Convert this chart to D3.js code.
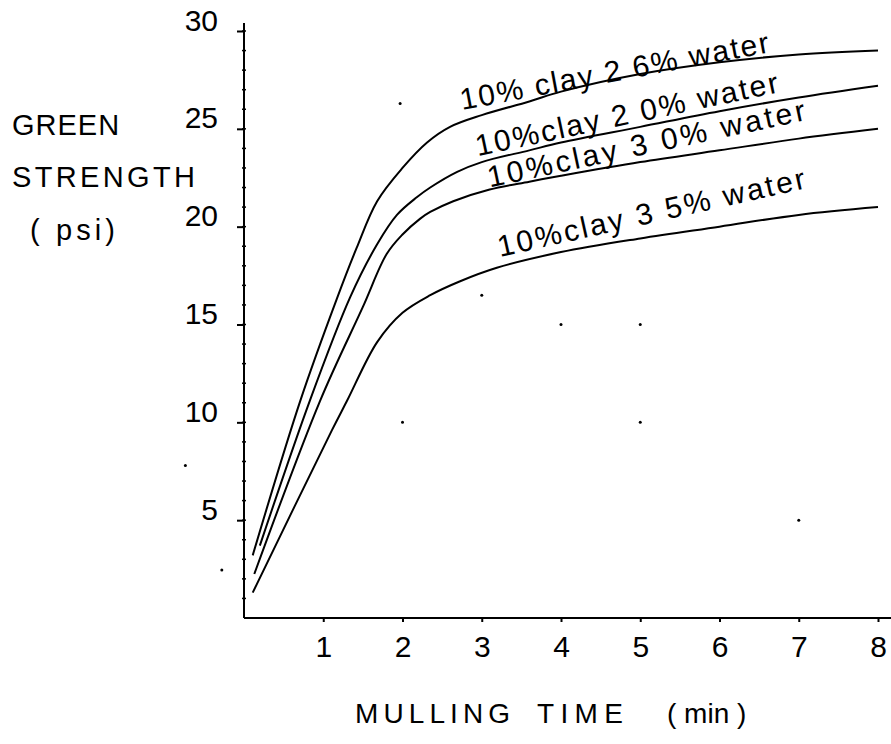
<!DOCTYPE html>
<html>
<head>
<meta charset="utf-8">
<script src="https://cdn.jsdelivr.net/npm/d3@7"></script>
<style>
  body { margin: 0; background: #fff; }
  text { font-family: "Liberation Sans", Arial, sans-serif; fill: #000; }
</style>
</head>
<body>
<div id="chart"></div>
<script>
var width = 891,
    height = 744

// tick values
var xTicks = [1, 2, 3, 4, 5, 6, 7, 8]
var yTicks = [5, 10, 15, 20, 25, 30]

// curve labels, as drawn on the chart
var seriesNames = ["10% clay 2 6% water", "10%clay 2 0% water", "10%clay 3 0% water", "10%clay 3 5% water"]

// mulling time (min) and green strength (psi)
var time26 = [0.11, 0.71, 1.17, 1.42, 1.68, 2.0, 2.31, 2.6, 3.0, 3.6, 4, 5, 6, 7, 8]
var str26  = [3.2, 11.1, 16.3, 18.9, 21.3, 23.0, 24.3, 25.1, 25.7, 26.4, 26.9, 27.8, 28.4, 28.8, 29.0]

var time20 = [0.2, 0.83, 1.34, 1.68, 1.93, 2.18, 2.35, 2.69, 3.0, 3.6, 4, 5, 6, 7, 8]
var str20  = [3.7, 11.1, 16.4, 19.1, 20.6, 21.5, 22.0, 22.8, 23.3, 23.9, 24.3, 25.1, 25.9, 26.6, 27.2]

var time30 = [0.13, 0.96, 1.5, 1.8, 2.0, 2.22, 2.35, 2.64, 3.1, 3.6, 4, 5, 6, 7, 8]
var str30  = [2.25, 11.1, 15.9, 18.6, 19.6, 20.4, 20.75, 21.3, 21.9, 22.3, 22.6, 23.3, 23.9, 24.5, 25.0]

var time35 = [0.11, 1.11, 1.3, 1.68, 2.0, 2.35, 2.72, 3.19, 4, 5, 6, 7, 8]
var str35  = [1.3, 9.6, 11.1, 14.1, 15.6, 16.5, 17.2, 17.9, 18.7, 19.4, 20.0, 20.6, 21.0]

// where each label starts and ends (data units)
var labelStart = [[2.75, 25.96], [2.95, 23.6], [3.1, 22.0], [3.23, 18.45]]
var labelEnd   = [[6.64, 28.92], [6.76, 26.88], [7.1, 25.45], [7.1, 21.97]]

// stray specks on the scanned sheet
var specks = [[1.97, 26.3], [3.0, 16.5], [4.0, 15.0], [5.0, 15.0], [2.0, 10.0], [5.0, 10.0], [7.0, 5.0], [-0.74, 7.8], [-0.28, 2.45]]

var series = [
  d3.zip(time26, str26),
  d3.zip(time20, str20),
  d3.zip(time30, str30),
  d3.zip(time35, str35)
]

var svg = d3.select("#chart")
  .append("svg")
    .attr("width", width)
    .attr("height", height)

var x = d3.scaleLinear().domain([0, 8]).range([244, 878])
var y = d3.scaleLinear().domain([0, 30]).range([618, 31])

// y axis: line, minor ticks every unit, major ticks every 5
svg.append("line")
  .attr("x1", x(0)).attr("x2", x(0))
  .attr("y1", y(30) - 8).attr("y2", y(0))
  .attr("stroke", "#000").attr("stroke-width", 2)

svg.selectAll("minorTicks")
  .data(d3.range(1, 31))
  .enter()
  .append("line")
    .attr("x1", x(0) - 2).attr("x2", x(0) + 2)
    .attr("y1", function(d) { return y(d) }).attr("y2", function(d) { return y(d) })
    .attr("stroke", "#000").attr("stroke-width", 1.5)

var yAxis = svg.append("g")
  .attr("transform", "translate(" + x(0) + ",0)")
  .call(d3.axisLeft(y).tickValues(yTicks).tickSize(7).tickSizeOuter(0).tickPadding(19))
yAxis.select(".domain").remove()
yAxis.selectAll("line").attr("stroke-width", 2)
yAxis.selectAll("text")
  .attr("dy", 0).attr("y", -1)
  .style("font-size", "30px")
  .style("font-family", '"Liberation Sans", Arial, sans-serif')

// x axis
svg.append("line")
  .attr("x1", x(0)).attr("x2", width)
  .attr("y1", y(0)).attr("y2", y(0))
  .attr("stroke", "#000").attr("stroke-width", 2)

var xAxis = svg.append("g")
  .attr("transform", "translate(0," + y(0) + ")")
  .call(d3.axisBottom(x).tickValues(xTicks).tickSize(4).tickSizeOuter(0))
xAxis.select(".domain").remove()
xAxis.selectAll("line").attr("stroke-width", 2)
xAxis.selectAll("text")
  .attr("dy", 0).attr("y", 39)
  .style("font-size", "30px")
  .style("font-family", '"Liberation Sans", Arial, sans-serif')

// axis titles
svg.append("text").attr("x", 12).attr("y", 135)
  .style("letter-spacing", "1px")
  .style("font-size", "29px").text("GREEN")
svg.append("text").attr("x", 12).attr("y", 187)
  .attr("textLength", 183).attr("lengthAdjust", "spacing")
  .style("font-size", "29px").text("STRENGTH")
svg.append("text").attr("x", 30).attr("y", 240)
  .attr("textLength", 85).attr("lengthAdjust", "spacing")
  .style("font-size", "29px").text("(\u00a0psi)")

svg.append("text").attr("x", 355).attr("y", 723)
  .attr("textLength", 155).attr("lengthAdjust", "spacing")
  .style("font-size", "28px").text("MULLING")
svg.append("text").attr("x", 537).attr("y", 723)
  .attr("textLength", 86).attr("lengthAdjust", "spacing")
  .style("font-size", "28px").text("TIME")
svg.append("text").attr("x", 667).attr("y", 723)
  .style("font-size", "28px").text("(\u00a0min\u00a0)")

// curves
var line = d3.line()
  .x(function(d) { return x(d[0]) })
  .y(function(d) { return y(d[1]) })
  .curve(d3.curveCatmullRom.alpha(0.5))

svg.selectAll("curves")
  .data(series)
  .enter()
  .append("path")
    .attr("d", line)
    .attr("fill", "none")
    .attr("stroke", "#000")
    .attr("stroke-width", 2)

// labels along the curves
svg.selectAll("curveLabels")
  .data(seriesNames)
  .enter()
  .append("text")
    .text(function(d) { return d })
    .attr("textLength", function(d, i) {
      var dx = x(labelEnd[i][0]) - x(labelStart[i][0]),
          dy = y(labelEnd[i][1]) - y(labelStart[i][1])
      return Math.sqrt(dx * dx + dy * dy)
    })
    .attr("lengthAdjust", "spacing")
    .style("font-size", "30px")
    .attr("transform", function(d, i) {
      var x0 = x(labelStart[i][0]), y0 = y(labelStart[i][1])
      var ang = Math.atan2(y(labelEnd[i][1]) - y0, x(labelEnd[i][0]) - x0) * 180 / Math.PI
      return "translate(" + x0 + "," + y0 + ") rotate(" + ang + ")"
    })

// specks
svg.selectAll("specks")
  .data(specks)
  .enter()
  .append("circle")
    .attr("cx", function(d) { return x(d[0]) })
    .attr("cy", function(d) { return y(d[1]) })
    .attr("r", 1.5)
    .attr("fill", "#000")
</script>
</body>
</html>
